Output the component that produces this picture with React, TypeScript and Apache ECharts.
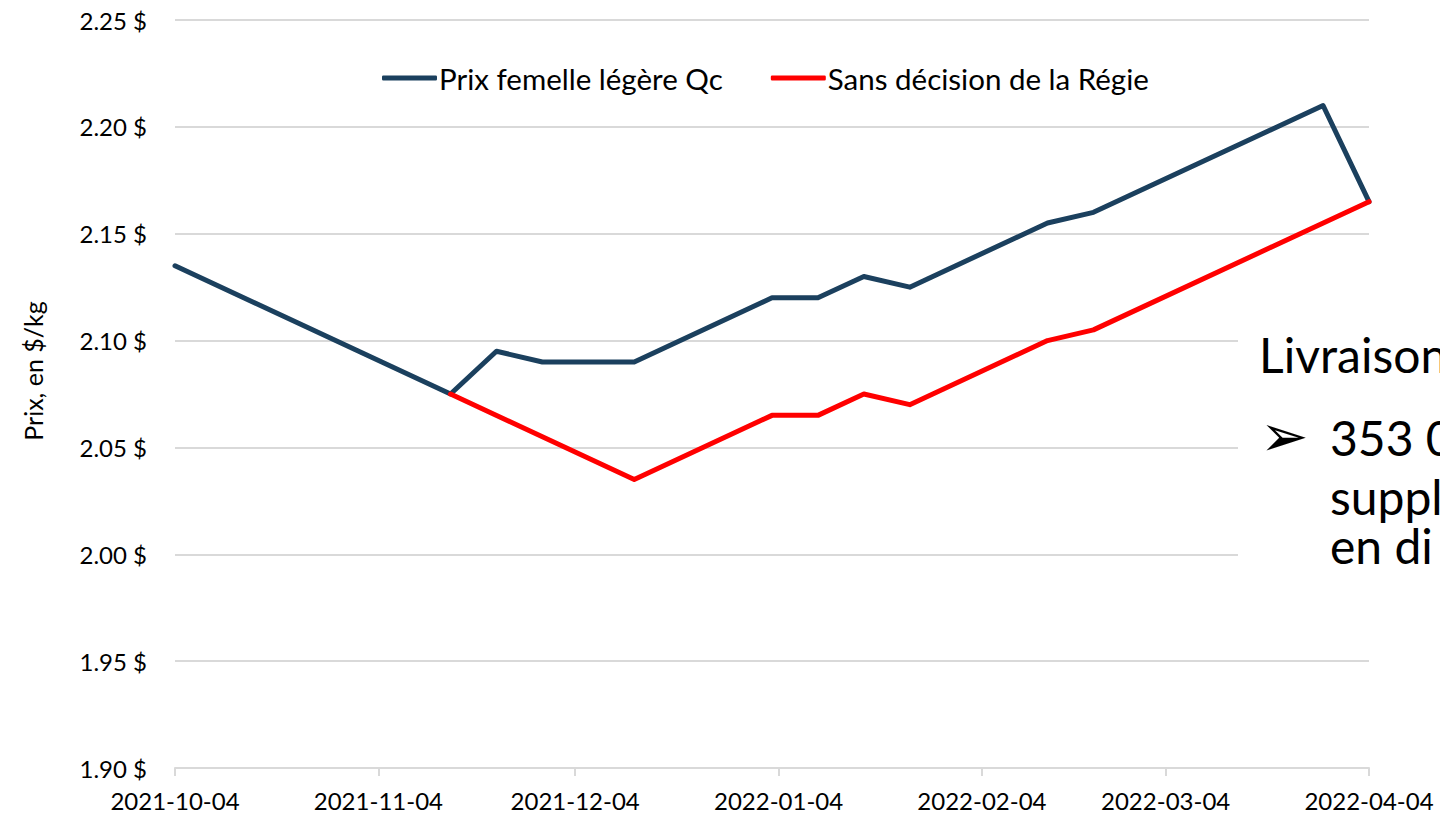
import React, { useEffect, useRef } from "react";
import * as echarts from "echarts";

const tickDates = ["2021-10-04", "2021-11-04", "2021-12-04", "2022-01-04", "2022-02-04", "2022-03-04", "2022-04-04"];

const seriesNames = ["Prix femelle légère Qc", "Sans décision de la Régie"];

const prixDates = ["2021-10-04", "2021-11-15", "2021-11-22", "2021-11-29", "2021-12-13", "2022-01-03", "2022-01-10", "2022-01-17", "2022-01-24", "2022-02-14", "2022-02-21", "2022-03-28", "2022-04-04"];
const prixValues = [2.135, 2.075, 2.095, 2.09, 2.09, 2.12, 2.12, 2.13, 2.125, 2.155, 2.16, 2.21, 2.165];

const sansDates = ["2021-11-15", "2021-12-13", "2022-01-03", "2022-01-10", "2022-01-17", "2022-01-24", "2022-02-14", "2022-02-21", "2022-04-04"];
const sansValues = [2.075, 2.035, 2.065, 2.065, 2.075, 2.07, 2.1, 2.105, 2.165];

const yMin = 1.9;
const yMax = 2.25;
const yStep = 0.05;

const yAxisTitle = "Prix, en $/kg";
const overlayTitle = "Livraison";
const overlayBullet = "➢";
const overlayLines = ["353 0", "suppl", "en di"];

function toTs(s: string): number {
  const [y, m, d] = s.split("-").map(Number);
  return new Date(y, m - 1, d).getTime();
}
function fmt(ts: number): string {
  const d = new Date(ts);
  const p = (n: number) => (n < 10 ? "0" + n : "" + n);
  return d.getFullYear() + "-" + p(d.getMonth() + 1) + "-" + p(d.getDate());
}

const FONT = "Lato";

export default function App() {
  const ref = useRef<HTMLDivElement>(null);
  useEffect(() => {
    if (!ref.current) return;
    const chart = echarts.init(ref.current, null, { renderer: "svg" });
    const ticks = tickDates.map(toTs);
    const lineYs = [437, 496, 545];
    chart.setOption({
      animation: false,
      backgroundColor: "#ffffff",
      textStyle: { fontFamily: FONT },
      grid: { left: 175, right: 71, top: 20, bottom: 47, containLabel: false },
      legend: {
        data: seriesNames,
        left: 377,
        top: 58,
        icon: "roundRect",
        itemWidth: 55,
        itemHeight: 5,
        itemGap: 48,
        textStyle: { fontFamily: FONT, fontSize: 29.5, color: "#000000", padding: [0, 0, 0, -3] },
      },
      xAxis: {
        type: "value",
        min: ticks[0],
        max: ticks[ticks.length - 1],
        axisLine: { show: true, lineStyle: { color: "#d9d9d9", width: 2 } },
        axisTick: { show: true, customValues: ticks, length: 8, lineStyle: { color: "#d9d9d9", width: 2 } },
        axisLabel: {
          customValues: ticks,
          formatter: (v: number) => fmt(v),
          fontFamily: FONT,
          fontSize: 24,
          color: "#000000",
          margin: 20,
        },
        splitLine: { show: false },
      },
      yAxis: {
        type: "value",
        min: yMin,
        max: yMax,
        interval: yStep,
        axisLine: { show: false },
        axisTick: { show: false },
        axisLabel: {
          formatter: (v: number) => v.toFixed(2) + " $",
          fontFamily: FONT,
          fontSize: 24,
          color: "#000000",
          margin: 28,
        },
        splitLine: { show: true, lineStyle: { color: "#d9d9d9", width: 2 } },
      },
      series: [
        {
          name: seriesNames[0],
          type: "line",
          data: prixDates.map((d, i) => [toTs(d), prixValues[i]]),
          symbol: "none",
          color: "#1B405E",
          lineStyle: { width: 5, color: "#1B405E", cap: "round", join: "round" },
          z: 2,
        },
        {
          name: seriesNames[1],
          type: "line",
          data: sansDates.map((d, i) => [toTs(d), sansValues[i]]),
          symbol: "none",
          color: "#FF0000",
          lineStyle: { width: 5, color: "#FF0000", cap: "round", join: "round" },
          z: 3,
        },
      ],
      graphic: [
        {
          type: "text",
          z: 50,
          x: 33,
          y: 371,
          rotation: Math.PI / 2,
          style: {
            text: yAxisTitle,
            fontFamily: FONT,
            fontSize: 25,
            fill: "#000000",
            align: "center",
            verticalAlign: "middle",
          },
        },
        {
          type: "rect",
          z: 100,
          shape: { x: 1238, y: 280, width: 210, height: 330 },
          style: { fill: "#ffffff" },
        },
        {
          type: "text",
          z: 101,
          x: 1259,
          y: 354,
          style: { text: overlayTitle, fontFamily: FONT, fontSize: 48, lineHeight: 46, fill: "#000000", verticalAlign: "middle" },
        },
        {
          type: "text",
          z: 101,
          x: 1260,
          y: 436,
          style: { text: overlayBullet, fontFamily: "DejaVu Sans", fontSize: 58, lineHeight: 46, fill: "#000000", verticalAlign: "middle" },
        },
        ...overlayLines.map((t, i) => ({
          type: "text",
          z: 101,
          x: 1330,
          y: lineYs[i],
          style: { text: t, fontFamily: FONT, fontSize: 48, lineHeight: 44, fill: "#000000", verticalAlign: "middle" },
        })),
      ],
    });
    return () => chart.dispose();
  }, []);
  return (
    <div
      ref={ref}
      style={{ position: "fixed", left: 0, top: 0, width: 1440, height: 815, background: "#ffffff" }}
    />
  );
}
